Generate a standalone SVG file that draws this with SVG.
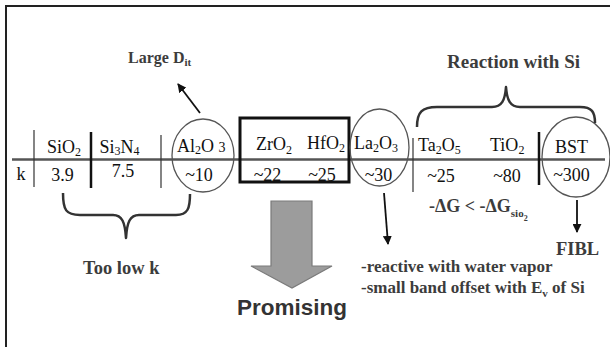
<svg xmlns="http://www.w3.org/2000/svg" width="610" height="347" viewBox="0 0 610 347">
  <style>
    .cell { font-family: "Liberation Serif", "Times New Roman", serif; font-size: 18px; fill: #111; }
    .sub { font-size: 12px; }
    .note { font-family: "Liberation Serif", "Times New Roman", serif; font-weight: bold; fill: #3c3c3c; }
    .frame { stroke: #222; stroke-width: 2; fill: none; }
    .rule { stroke: #555; stroke-width: 2.5; }
    .thin { stroke: #333; stroke-width: 1.2; }
    .thick { stroke: #111; stroke-width: 2.5; }
    .ring { fill: none; stroke: #555; stroke-width: 1.3; }
    .brace { fill: none; stroke: #333; stroke-width: 2.5; stroke-linejoin: round; }
    .pointer { stroke: #111; stroke-width: 1.8; marker-end: url(#head); }
  </style>
  <defs>
    <marker id="head" viewBox="0 0 10 10" refX="9" refY="5" markerWidth="5" markerHeight="5" orient="auto" markerUnits="strokeWidth">
      <path d="M0,0 L10,5 L0,10 Z" fill="#111"/>
    </marker>
  </defs>

  <!-- page frame (top and left edges) -->
  <path class="frame" d="M6,347 L6,6 L610,6"/>

  <!-- dielectric table axis -->
  <g id="table">
    <line class="rule" x1="12" y1="159.5" x2="605" y2="159.5"/>
    <line class="thin" x1="34" y1="130" x2="34" y2="187"/>
    <line class="thick" x1="91" y1="132" x2="91" y2="188"/>
    <line class="thin" x1="161" y1="135" x2="161" y2="188"/>
    <line class="thin" x1="413" y1="138" x2="413" y2="192"/>
    <line class="thick" x1="539" y1="132" x2="539" y2="185"/>
    <text class="cell" x="21" y="180" text-anchor="middle">k</text>
  </g>

  <g id="sio2">
    <text class="cell" x="64" y="153" text-anchor="middle">SiO<tspan class="sub" dy="3">2</tspan></text>
    <text class="cell" x="62.5" y="181" text-anchor="middle">3.9</text>
  </g>

  <g id="si3n4">
    <text class="cell" x="119.5" y="153" text-anchor="middle">Si<tspan class="sub" dy="2">3</tspan><tspan dy="-2">N</tspan><tspan class="sub" dy="2">4</tspan></text>
    <text class="cell" x="123" y="177" text-anchor="middle">7.5</text>
  </g>

  <g id="al2o3">
    <ellipse class="ring" cx="203" cy="155.5" rx="31" ry="36.5"/>
    <text class="cell" x="177" y="152">Al<tspan class="sub" dy="2">2</tspan><tspan dy="-2">O </tspan><tspan style="font-size:14px">3</tspan></text>
    <text class="cell" x="199" y="181" text-anchor="middle">~10</text>
  </g>

  <g id="promising-box">
    <rect x="240" y="118" width="109" height="64" fill="none" stroke="#111" stroke-width="3"/>
    <text class="cell" x="256" y="150">ZrO<tspan class="sub" dy="4">2</tspan></text>
    <text class="cell" x="267.5" y="181" text-anchor="middle">~22</text>
    <text class="cell" x="307" y="149">HfO<tspan class="sub" dy="3">2</tspan></text>
    <text class="cell" x="322" y="181" text-anchor="middle">~25</text>
  </g>

  <g id="la2o3">
    <ellipse class="ring" cx="379.5" cy="147.5" rx="29.5" ry="38.5"/>
    <text class="cell" x="354" y="149">La<tspan class="sub" dy="3">2</tspan><tspan dy="-3">O</tspan><tspan class="sub" dy="3">3</tspan></text>
    <text class="cell" x="378.5" y="181" text-anchor="middle">~30</text>
  </g>

  <g id="ta2o5">
    <text class="cell" x="418" y="151">Ta<tspan class="sub" dy="3">2</tspan><tspan dy="-3">O</tspan><tspan class="sub" dy="3">5</tspan></text>
    <text class="cell" x="441" y="182" text-anchor="middle">~25</text>
  </g>

  <g id="tio2">
    <text class="cell" x="490" y="151">TiO<tspan class="sub" dy="3">2</tspan></text>
    <text class="cell" x="507" y="182" text-anchor="middle">~80</text>
  </g>

  <g id="bst">
    <ellipse class="ring" cx="576" cy="157" rx="34" ry="40"/>
    <text class="cell" x="555" y="153">BST</text>
    <text class="cell" x="571.5" y="181" text-anchor="middle">~300</text>
  </g>

  <!-- braces and pointers -->
  <g id="connectors">
    <path class="brace" d="M417,127 C417,112 422,107 437,107 L492,107 C502,107 505,100 506,87 C507,100 510,107 520,107 L580,107 C592,107 595,112 595,123"/>
    <path class="brace" d="M63,193 C63,210 66,215 80,215 L113,215 C122,215 125,222 126,238 C127,222 130,215 139,215 L176,215 C188,215 190,208 190,194"/>
    <line class="pointer" x1="200" y1="113" x2="178" y2="84"/>
    <line class="pointer" x1="384" y1="193" x2="388" y2="244"/>
    <line class="pointer" x1="577" y1="200" x2="577" y2="232"/>
    <path d="M271,201 L312,201 L312,266 L332,266 L292,288 L251,266 L271,266 Z" fill="#9c9c9c" stroke="#7a7a7a" stroke-width="1.2"/>
  </g>

  <!-- annotations -->
  <g id="large-dit">
    <text class="note" x="128" y="63" font-size="16">Large D<tspan font-size="11" dy="3">it</tspan></text>
  </g>
  <g id="reaction">
    <text class="note" x="447" y="68" font-size="19">Reaction with Si</text>
  </g>
  <g id="too-low-k">
    <text class="note" x="83" y="274" font-size="18.5">Too low k</text>
  </g>
  <g id="promising">
    <text x="237" y="315" font-family="'Liberation Sans', Arial, sans-serif" font-weight="bold" font-size="22.5" fill="#333">Promising</text>
  </g>
  <g id="delta-g">
    <text class="note" x="429" y="212" font-size="18">-ΔG &lt; -ΔG<tspan font-size="11" dy="5">sio</tspan><tspan font-size="8" dy="4">2</tspan></text>
  </g>
  <g id="fibl">
    <text class="note" x="556" y="255" font-size="18.5">FIBL</text>
  </g>
  <g id="la-notes">
    <text class="note" x="361" y="272" font-size="17">-reactive with water vapor</text>
    <text class="note" x="361" y="293" font-size="17">-small band offset with E<tspan font-size="11" dy="4">v</tspan><tspan dy="-4"> of Si</tspan></text>
  </g>
</svg>
